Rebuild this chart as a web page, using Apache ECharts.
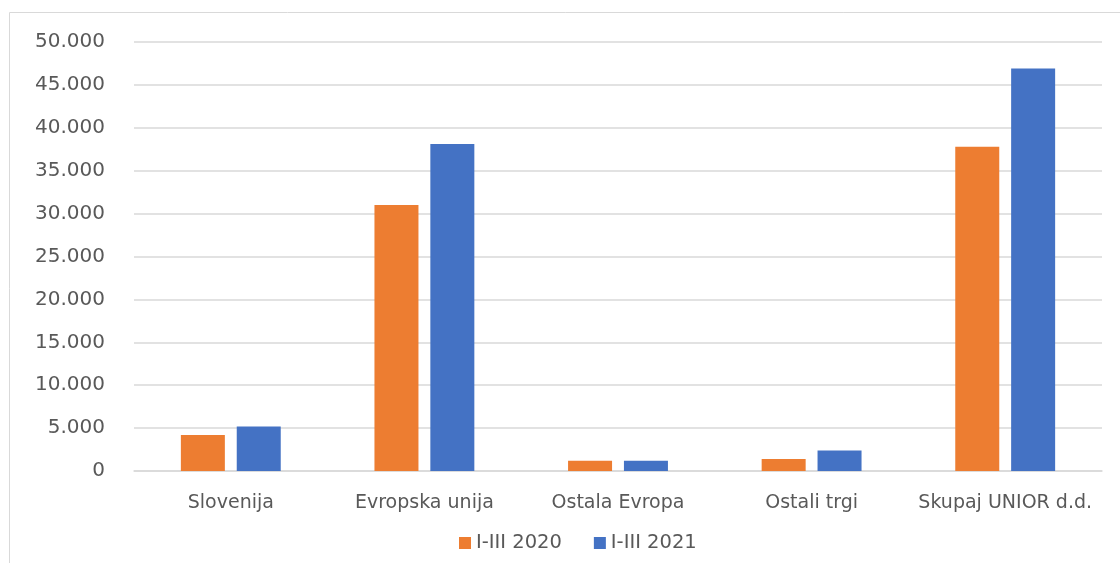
<!DOCTYPE html>
<html><head><meta charset="utf-8">
<script src="https://cdn.jsdelivr.net/npm/echarts@6/dist/echarts.min.js"></script>
<style>html,body{margin:0;padding:0;background:#fff}#c{width:1120px;height:563px}</style>
</head><body><div id="c"></div>
<script>
const categories = ['Slovenija', 'Evropska unija', 'Ostala Evropa', 'Ostali trgi', 'Skupaj UNIOR d.d.'];
const seriesNames = ['I-III 2020', 'I-III 2021'];
const values2020 = [4200, 31000, 1200, 1400, 37800];
const values2021 = [5200, 38100, 1200, 2400, 46900];
const yTicks = [0, 5000, 10000, 15000, 20000, 25000, 30000, 35000, 40000, 45000, 50000];

const chart = echarts.init(document.getElementById('c'));
const fmt = v => v === 0 ? '0' : String(v).replace(/\B(?=(\d{3})+(?!\d))/g, '.');
chart.setOption({
  animation: false,
  textStyle: { fontFamily: 'DejaVu Sans' },
  graphic: [{
    type: 'rect', shape: { x: 9.5, y: 12.5, width: 1200, height: 700 },
    style: { fill: 'none', stroke: '#d9d9d9', lineWidth: 1 }, silent: true
  }],
  grid: { left: 134, right: 18, top: 42, bottom: 92 },
  legend: {
    data: seriesNames, top: 528, left: 454,
    itemWidth: 12, itemHeight: 12, itemGap: 32, icon: 'rect',
    textStyle: { color: '#595959', fontSize: 19.5, fontFamily: 'DejaVu Sans' }
  },
  xAxis: {
    type: 'category', data: categories,
    axisLine: { show: true, lineStyle: { color: '#d9d9d9', width: 1.5 } },
    axisTick: { show: false },
    axisLabel: { color: '#595959', fontSize: 19, margin: 23, interval: 0, fontFamily: 'DejaVu Sans' }
  },
  yAxis: {
    type: 'value', min: yTicks[0], max: yTicks[yTicks.length - 1], interval: 5000,
    axisLine: { show: false }, axisTick: { show: false },
    splitLine: { lineStyle: { color: '#d9d9d9', width: 1.5 } },
    axisLabel: { color: '#595959', fontSize: 20, margin: 29, formatter: fmt, fontFamily: 'DejaVu Sans' }
  },
  series: [
    { name: seriesNames[0], type: 'bar', data: values2020, barWidth: 44, barGap: '27%',
      itemStyle: { color: '#ED7D31' } },
    { name: seriesNames[1], type: 'bar', data: values2021, barWidth: 44, barGap: '27%',
      itemStyle: { color: '#4472C4' } }
  ]
});
</script></body></html>
